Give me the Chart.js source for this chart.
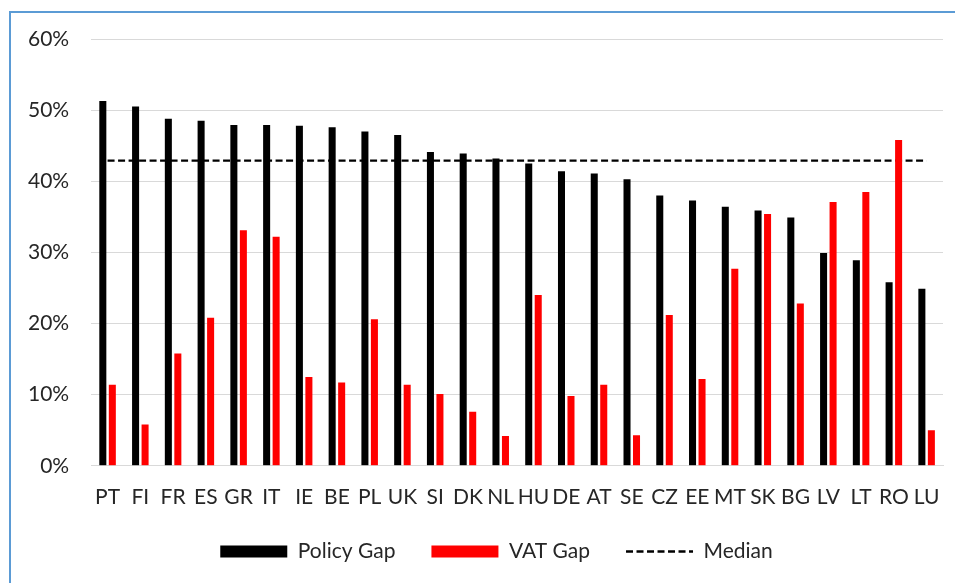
<!DOCTYPE html>
<html>
<head>
<meta charset="utf-8">
<script src="https://cdn.jsdelivr.net/npm/chart.js@4.4.0/dist/chart.umd.min.js"></script>
<style>
  html, body { margin: 0; padding: 0; background: #fff; overflow: hidden; }
  #frame {
    position: absolute; left: 9px; top: 11px;
    width: 1000px; height: 1000px;
    border: 2px solid #5b9bd5;
  }
  #wrap { position: absolute; left: 0; top: 0; width: 955px; height: 588px; }
</style>
</head>
<body>
<div id="frame"></div>
<div id="wrap"><canvas id="myChart"></canvas></div>
<script>
const countries = ["PT", "FI", "FR", "ES", "GR", "IT", "IE", "BE", "PL", "UK", "SI", "DK", "NL",
  "HU", "DE", "AT", "SE", "CZ", "EE", "MT", "SK", "BG", "LV", "LT", "RO", "LU"];

const policyGap = [51.3, 50.5, 48.8, 48.5, 47.9, 47.9, 47.8, 47.6, 47.0, 46.5, 44.1, 43.9, 43.2,
  42.5, 41.4, 41.1, 40.3, 38.0, 37.3, 36.4, 35.9, 34.9, 29.9, 28.9, 25.8, 24.9];

const vatGap = [11.4, 5.8, 15.8, 20.8, 33.1, 32.2, 12.5, 11.7, 20.6, 11.4, 10.1, 7.6, 4.2,
  24.0, 9.8, 11.4, 4.3, 21.2, 12.2, 27.7, 35.4, 22.8, 37.1, 38.5, 45.8, 5.0];

// median reference line, from first to last country
const median = [{ x: "PT", y: 42.9 }, { x: "LU", y: 42.9 }];

const yTicks = [0, 10, 20, 30, 40, 50, 60];

const textColor = "#262626";
const gridColor = "#d9d9d9";
const font = { family: "Lato", size: 21 };
const dash = [7, 3.5];

// nudge the legend closer to the axis and centre it like the original
const legendShift = {
  id: "legendShift",
  afterLayout(chart) {
    let lg = chart.legend;
    if (!lg) return;
    lg.top -= 16;
    lg.bottom -= 16;
    lg.left += 22;
    lg.right += 22;
  },
};

let ctx = document.getElementById("myChart").getContext("2d");

let myChart = new Chart(ctx, {
  type: "bar",
  data: {
    labels: countries,
    datasets: [
      {
        label: "Policy Gap",
        data: policyGap,
        backgroundColor: "#000000",
        categoryPercentage: 0.58,
        barPercentage: 0.74,
      },
      {
        label: "VAT Gap",
        data: vatGap,
        backgroundColor: "#ff0000",
        categoryPercentage: 0.58,
        barPercentage: 0.74,
      },
      {
        type: "line",
        label: "Median",
        data: median,
        borderColor: "#000000",
        backgroundColor: "transparent",
        borderWidth: 2.2,
        borderDash: dash,
        pointRadius: 0,
      },
    ],
  },
  plugins: [legendShift],
  options: {
    responsive: true,
    maintainAspectRatio: false,
    animation: false,
    layout: { padding: { left: 6, right: 12, top: 39, bottom: 0 } },
    plugins: {
      tooltip: { enabled: false },
      legend: {
        position: "bottom",
        labels: {
          color: textColor,
          font,
          usePointStyle: true,
          pointStyleWidth: 67,
          boxHeight: 12,
          padding: 36,
          generateLabels(chart) {
            let items = Chart.defaults.plugins.legend.labels.generateLabels(chart);
            items.sort((a, b) => a.datasetIndex - b.datasetIndex);
            return items.map((item) => {
              let isLine = item.datasetIndex === 2;
              item.pointStyle = isLine ? "line" : "rect";
              item.lineWidth = isLine ? 2.5 : 0;
              item.strokeStyle = "#000000";
              item.lineDash = isLine ? dash : [];
              return item;
            });
          },
        },
      },
    },
    scales: {
      x: {
        grid: { display: false },
        border: { color: gridColor },
        ticks: { color: textColor, font, padding: 11, maxRotation: 0, autoSkip: false },
      },
      y: {
        min: 0,
        max: 60,
        afterBuildTicks(axis) {
          axis.ticks = yTicks.map((v) => ({ value: v }));
        },
        grid: { color: gridColor, drawTicks: false },
        border: { display: false },
        ticks: {
          color: textColor,
          font,
          padding: 22,
          callback: (v) => v + "%",
        },
      },
    },
  },
});
</script>
</body>
</html>
